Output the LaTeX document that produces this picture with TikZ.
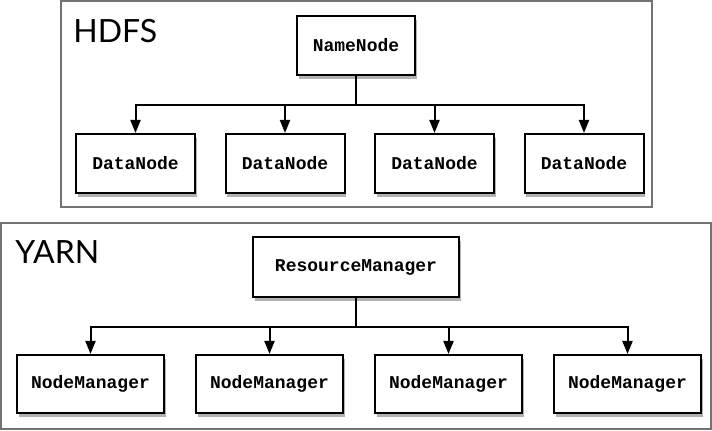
\documentclass[tikz,border=0pt]{standalone}
\usepackage{fontspec}
\newfontfamily\titlefont{Lato}
\newfontfamily\boxfont{Liberation Mono}
\usetikzlibrary{positioning, shadows, arrows.meta}

\begin{document}
\begin{tikzpicture}[x=0.5pt, y=0.5pt,
    box/.style={draw, line width=1pt, fill=white, font=\boxfont\bfseries\fontsize{9}{9}\selectfont,
      drop shadow={fill=black!30, opacity=1, shadow xshift=0.8pt, shadow yshift=-2pt}},
    dn/.style={box, minimum width=59.5pt, minimum height=29.5pt},
    nm/.style={box, minimum width=73.5pt, minimum height=29pt},
    frame/.style={draw=black!55, line width=0.8pt},
    arr/.style={line width=1pt, -{Triangle[length=6.5pt, width=5pt]}},
    title/.style={font=\titlefont\fontsize{16}{16}\selectfont, anchor=base west, inner sep=0pt}]
  \useasboundingbox (0,0) rectangle (712,431);
  \draw[frame] (61,224) rectangle (652,430);
  \draw[frame] (1,2) rectangle (711,208);
  \node[title] (hdfs) at (73,388) {HDFS};
  \node[title] (yarn) at (15,167) {YARN};
  \node[dn, minimum width=59pt] (nn) at (356,385.5) {NameNode};
  \node[dn] (dn1) at (135.5,267.5) {DataNode};
  \node[dn, right=14.25pt of dn1] (dn2) {DataNode};
  \node[dn, right=14.25pt of dn2] (dn3) {DataNode};
  \node[dn, right=14.25pt of dn3] (dn4) {DataNode};
  \node[nm, minimum width=103pt, minimum height=30pt] (rm) at (356,164) {ResourceManager};
  \node[nm] (nm1) at (90.5,47) {NodeManager};
  \node[nm, right=15pt of nm1] (nm2) {NodeManager};
  \node[nm, right=15pt of nm2] (nm3) {NodeManager};
  \node[nm, right=15pt of nm3] (nm4) {NodeManager};
  \foreach \i in {1,...,4}
    \draw[arr] (nn.south) -- ++(0,-29) -| (dn\i.north);
  \foreach \i in {1,...,4}
    \draw[arr] (rm.south) -- ++(0,-29) -| (nm\i.north);
\end{tikzpicture}
\end{document}
